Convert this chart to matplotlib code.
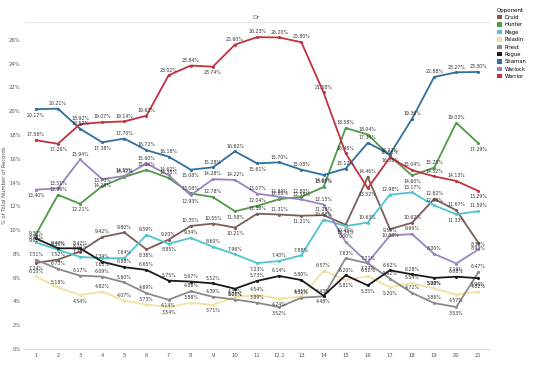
import matplotlib.pyplot as plt
from matplotlib.patches import Patch

rounds = ['1', '2', '3', '4', '5', '6', '7', '8', '9', '10', '11', '12.1',
          '13', '14', '15', '16', '17', '18', '19', '20', '21']

druid = [7.24, 7.52, 8.20, 9.42, 9.80, 8.38, 9.20, 10.35, 10.55, 10.21, 11.38,
         11.31, 11.21, 11.26, 10.45, 14.46, 10.08, 10.62, 12.62, 11.67, 8.93]
hunter = [9.62, 12.96, 12.21, 13.70, 14.47, 15.06, 14.38, 13.08, 12.78, 11.58, 12.04,
          12.60, 12.80, 13.62, 18.58, 18.04, 16.22, 14.60, 15.25, 19.03, 17.29]
mage = [8.96, 8.35, 7.75, 7.63, 7.64, 9.59, 8.85, 9.34, 8.60, 7.96, 7.23,
        7.40, 7.88, 10.88, 10.34, 10.63, 12.98, 13.17, 12.08, 11.33, 11.59]
paladin = [6.10, 5.18, 4.54, 4.82, 4.07, 3.73, 3.54, 3.88, 3.71, 4.37, 4.54,
           4.24, 4.41, 6.57, 5.81, 6.12, 5.20, 5.54, 5.09, 4.57, 4.82]
priest = [7.51, 6.73, 6.17, 6.09, 5.60, 4.69, 4.14, 4.86, 4.39, 4.16, 3.89,
          3.52, 4.32, 4.43, 7.63, 7.21, 5.92, 4.72, 3.86, 3.53, 6.47]
rogue = [9.30, 8.47, 8.47, 7.34, 6.88, 6.65, 5.75, 5.67, 5.52, 5.07, 5.73,
         6.14, 5.80, 4.48, 6.20, 5.35, 6.62, 6.28, 5.98, 6.08, 5.96]
shaman = [20.17, 20.21, 18.52, 17.38, 17.70, 16.72, 16.18, 15.08, 15.28, 16.62, 15.61,
          15.70, 15.08, 14.64, 15.17, 17.34, 16.38, 19.36, 22.88, 23.27, 23.30]
warlock = [13.40, 13.51, 15.94, 14.28, 14.55, 15.60, 14.62, 12.93, 14.28, 14.22, 13.07,
           12.80, 12.58, 12.15, 9.00, 7.27, 9.55, 9.66, 8.00, 7.19, 8.38]
warrior = [17.56, 17.26, 18.92, 19.07, 19.14, 19.62, 23.02, 23.84, 23.74, 25.60, 26.23,
           26.20, 25.80, 21.58, 16.46, 13.52, 16.11, 15.04, 14.52, 14.13, 13.29]

names = ['Druid', 'Hunter', 'Mage', 'Paladin', 'Priest', 'Rogue', 'Shaman', 'Warlock', 'Warrior']
series = [druid, hunter, mage, paladin, priest, rogue, shaman, warlock, warrior]
colors = ['#7b5f57', '#4f9a47', '#4fc4cf', '#f3e1a0', '#8a8a8a', '#1a1a1a',
          '#2f6f9f', '#9d83c0', '#c0323f']

fig = plt.figure(figsize=(5.5, 3.67), dpi=100)
ax = fig.add_axes([0.045, 0.049, 0.845, 0.891])

x = list(range(1, len(rounds) + 1))
for name, vals, c in zip(names, series, colors):
    ax.plot(x, vals, color=c, lw=1.3, marker='o', ms=1.2, label=name)
    n = len(vals)
    for i, (a, b) in enumerate(zip(x, vals)):
        # label goes under the point when it is a local dip, like the original
        nb = [vals[j] for j in (i - 1, i + 1) if 0 <= j < n]
        below = all(b < v for v in nb)
        ax.annotate('%.2f%%' % b, (a, b), xytext=(0, -2.5 if below else 2),
                    textcoords='offset points', ha='center',
                    va='top' if below else 'bottom', fontsize=3.3, color='#333333')

ax.set_xlim(0.5, 21.5)
ax.set_ylim(0, 27.5)
ax.set_xticks(x)
ax.set_xticklabels(rounds)
ax.set_yticks(range(0, 27, 2))
ax.set_yticklabels(['%d%%' % v for v in range(0, 27, 2)])
ax.tick_params(length=0, labelsize=3.8, colors='#555555', pad=3)
for s in ['right', 'left']:
    ax.spines[s].set_visible(False)
ax.spines['bottom'].set_color('#dddddd')
ax.spines['top'].set_color('#e6e6e6')
ax.set_ylabel('% of Total Number of Records', fontsize=3.8, color='#555555', labelpad=1.5)

fig.text(0.466, 0.952, 'Dr', fontsize=4.5, color='#666666', ha='center', va='center')

handles = [Patch(facecolor=c, edgecolor='none') for c in colors]
leg = fig.legend(handles, names, loc='upper left', bbox_to_anchor=(0.9, 0.985),
                 frameon=False, fontsize=3.8, title='Opponent', title_fontsize=4,
                 handlelength=0.9, handleheight=0.9, labelspacing=0.45,
                 handletextpad=0.5, borderaxespad=0)
leg._legend_box.align = 'left'

fig.savefig('out.png', dpi=100)
